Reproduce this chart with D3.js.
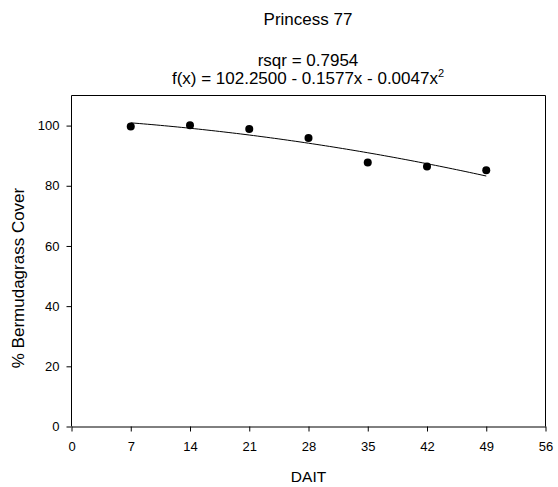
<!DOCTYPE html>
<html>
<head>
<meta charset="utf-8">
<script src="https://cdn.jsdelivr.net/npm/d3@7"></script>
<style>
  html, body { margin: 0; padding: 0; background: #fff; }
  svg { display: block; }
  text { font-family: "Liberation Sans", Arial, sans-serif; fill: #000; }
</style>
</head>
<body>
<svg id="chart" width="558" height="487"></svg>
<script>
const daitValues = [7, 14, 21, 28, 35, 42, 49];
const coverValues = [99.7, 100.1, 98.9, 95.9, 87.7, 86.4, 85.2];
const xTicks = [0, 7, 14, 21, 28, 35, 42, 49, 56];
const yTicks = [0, 20, 40, 60, 80, 100];
const fitCoefficients = [102.25, -0.1577, -0.0047];
const fitRange = [7, 49];
const titleText = "Princess 77";
const rsqrText = "rsqr = 0.7954";
const xTitle = "DAIT";
const yTitle = "% Bermudagrass Cover";

(function () {
const svg = d3.select("#chart");
const pLeft = 71.5, pRight = 545.5, pTop = 95.5, pBottom = 426.5;
const x = d3.scaleLinear().domain([0, 56]).range([pLeft, pRight]);
const y = d3.scaleLinear().domain([0, 110]).range([pBottom, pTop]);

// frame (top and right)
svg.append("line").attr("x1", pLeft).attr("x2", pRight).attr("y1", pTop).attr("y2", pTop)
  .attr("stroke", "#000").attr("stroke-width", 1);
svg.append("line").attr("x1", pRight).attr("x2", pRight).attr("y1", pTop).attr("y2", pBottom)
  .attr("stroke", "#000").attr("stroke-width", 1);

const xAxis = svg.append("g").attr("transform", `translate(0,${pBottom})`)
  .call(d3.axisBottom(x).tickValues(xTicks).tickSize(5).tickSizeOuter(0).tickPadding(10));
const yAxis = svg.append("g").attr("transform", `translate(${pLeft},0)`)
  .call(d3.axisLeft(y).tickValues(yTicks).tickSize(5).tickSizeOuter(0).tickPadding(7));
[xAxis, yAxis].forEach(g => {
  g.select(".domain").attr("stroke", "#000");
  g.selectAll(".tick line").attr("stroke", "#000");
  g.selectAll(".tick text").attr("font-size", 13).attr("font-family", "Liberation Sans, Arial, sans-serif").attr("fill", "#000");
});
yAxis.select(".domain").attr("d", `M0,${pTop}V${pBottom}`);

// fitted curve
const fitX = d3.range(fitRange[0], fitRange[1] + 0.001, 0.5);
const f = v => fitCoefficients[0] + fitCoefficients[1] * v + fitCoefficients[2] * v * v;
svg.append("path")
  .datum(fitX)
  .attr("d", d3.line().x(d => x(d)).y(d => y(f(d))))
  .attr("fill", "none").attr("stroke", "#000").attr("stroke-width", 1);

// points
svg.selectAll("circle.pt").data(daitValues).enter().append("circle")
  .attr("class", "pt")
  .attr("cx", d => x(d)).attr("cy", (d, i) => y(coverValues[i])).attr("r", 4)
  .attr("fill", "#000");

// titles
const cx = 308;
svg.append("text").attr("x", cx).attr("y", 25).attr("text-anchor", "middle")
  .attr("font-size", 17).text(titleText);
svg.append("text").attr("x", cx).attr("y", 66).attr("text-anchor", "middle")
  .attr("font-size", 17).text(rsqrText);
const eq = svg.append("text").attr("x", cx).attr("y", 84).attr("text-anchor", "middle")
  .attr("font-size", 17);
eq.append("tspan").text("f(x) = 102.2500 - 0.1577x - 0.0047x");
eq.append("tspan").attr("font-size", 11).attr("dy", -7).text("2");

svg.append("text").attr("x", (pLeft + pRight) / 2).attr("y", 482).attr("text-anchor", "middle")
  .attr("font-size", 15.5).text(xTitle);
svg.append("text").attr("transform", `translate(24,278) rotate(-90)`)
  .attr("text-anchor", "middle").attr("font-size", 17).text(yTitle);
})();
</script>
</body>
</html>
